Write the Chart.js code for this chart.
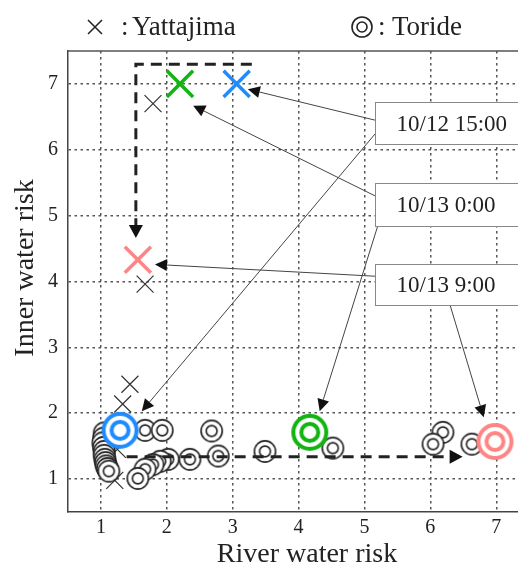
<!DOCTYPE html>
<html>
<head>
<meta charset="utf-8">
<script src="https://cdn.jsdelivr.net/npm/chart.js@4"></script>
<style>
  html, body { margin: 0; padding: 0; background: #fff; }
  canvas { display: block; }
</style>
</head>
<body>
<canvas id="riskChart" width="518" height="567"></canvas>
<script>
// tick values
const xTicks = [1, 2, 3, 4, 5, 6, 7];
const yTicks = [1, 2, 3, 4, 5, 6, 7];

// Yattajima (x marks), hourly values
const yattajimaX = [1.21, 1.25, 1.33, 1.44, 1.67, 1.79];
const yattajimaY = [0.98, 1.45, 2.14, 2.44, 3.96, 6.70];

// Toride (double circles), hourly values - drawn in this order
const torideX = [1.05, 1.04, 1.03, 1.04, 1.05, 1.05, 1.06, 1.07, 1.08, 1.10, 1.12,
                 1.67, 1.93, 2.68, 6.19, 6.63, 6.04, 4.52, 3.49, 2.78, 2.35, 2.02, 1.90, 1.79, 1.67, 1.56];
const torideY = [1.70, 1.62, 1.55, 1.48, 1.42, 1.36, 1.30, 1.25, 1.20, 1.16, 1.12,
                 1.74, 1.74, 1.73, 1.71, 1.53, 1.53, 1.47, 1.42, 1.35, 1.30, 1.30, 1.27, 1.22, 1.15, 1.01];

// highlighted times
const times = ['10/12 15:00', '10/13 0:00', '10/13 9:00'];
const timeColors = ['#1e8cff', '#12b412', '#ff8585'];
const yattajimaAtX = [3.06, 2.20, 1.56];
const yattajimaAtY = [7.00, 7.00, 4.33];
const torideAtX = [1.29, 4.17, 6.98];
const torideAtY = [1.74, 1.71, 1.57];

// annotation layout (data coordinates)
const boxLeft = 5.16;
const boxTops = [6.73, 5.50, 4.26];
const boxBottoms = [6.09, 4.84, 3.64];
const pointers = [
  { from: [5.16, 6.45], to: [3.23, 6.92] },
  { from: [5.16, 6.24], to: [1.62, 2.03] },
  { from: [5.16, 5.30], to: [2.40, 6.67] },
  { from: [5.20, 4.84], to: [4.32, 2.03] },
  { from: [5.16, 4.08], to: [1.82, 4.26] },
  { from: [6.30, 3.64], to: [6.81, 1.94] }
];
const flowPaths = [
  [[3.29, 7.30], [1.53, 7.30], [1.53, 4.66]],
  [[1.39, 1.34], [6.49, 1.34]]
];

const serif = '"Liberation Serif", "Times New Roman", Times, serif';

function toPoints(xs, ys) {
  return xs.map((x, i) => ({ x: x, y: ys[i] }));
}

// double circle marker as a small canvas
function ringStyle(outerR, innerR, lineWidth, color) {
  const size = Math.ceil(2 * outerR + lineWidth + 2);
  const c = document.createElement('canvas');
  c.width = size;
  c.height = size;
  const g = c.getContext('2d');
  const m = size / 2;
  g.fillStyle = '#fff';
  g.beginPath(); g.arc(m, m, outerR, 0, Math.PI * 2); g.fill();
  g.strokeStyle = color;
  g.lineWidth = lineWidth;
  g.beginPath(); g.arc(m, m, outerR, 0, Math.PI * 2); g.stroke();
  g.beginPath(); g.arc(m, m, innerR, 0, Math.PI * 2); g.stroke();
  return c;
}

function arrowHead(ctx, x1, y1, x2, y2, len, halfW) {
  const a = Math.atan2(y2 - y1, x2 - x1);
  const bx = x2 - len * Math.cos(a), by = y2 - len * Math.sin(a);
  ctx.beginPath();
  ctx.moveTo(x2, y2);
  ctx.lineTo(bx + halfW * Math.sin(a), by - halfW * Math.cos(a));
  ctx.lineTo(bx - halfW * Math.sin(a), by + halfW * Math.cos(a));
  ctx.closePath();
  ctx.fill();
}

const smallRing = ringStyle(10.6, 5.4, 1.6, '#222');
const bigRings = timeColors.map(c => ringStyle(16.5, 8.5, 4, c));

// dashed flow arrows, drawn right after the small circles
const flowPlugin = {
  id: 'flow',
  afterDatasetDraw(chart, args) {
    if (args.index !== 2) return;
    const ctx = chart.ctx, xs = chart.scales.x, ys = chart.scales.y;
    ctx.save();
    ctx.strokeStyle = '#222';
    ctx.fillStyle = '#111';
    ctx.lineWidth = 3;
    flowPaths.forEach(path => {
      const pts = path.map(p => [xs.getPixelForValue(p[0]), ys.getPixelForValue(p[1])]);
      const n = pts.length;
      const [px, py] = pts[n - 2], [tx, ty] = pts[n - 1];
      const d = Math.hypot(tx - px, ty - py), len = 13;
      ctx.setLineDash([11, 7]);
      ctx.beginPath();
      ctx.moveTo(pts[0][0], pts[0][1]);
      for (let i = 1; i < n - 1; i++) ctx.lineTo(pts[i][0], pts[i][1]);
      ctx.lineTo(tx - (tx - px) / d * len, ty - (ty - py) / d * len);
      ctx.stroke();
      ctx.setLineDash([]);
      arrowHead(ctx, px, py, tx, ty, len, 7);
    });
    ctx.restore();
  }
};

// frame, labels boxes, pointers, legend and axis titles
const decorPlugin = {
  id: 'decor',
  afterDraw(chart) {
    const ctx = chart.ctx, xs = chart.scales.x, ys = chart.scales.y, area = chart.chartArea;
    ctx.save();
    // top frame line
    ctx.strokeStyle = '#555';
    ctx.lineWidth = 1.5;
    ctx.beginPath();
    ctx.moveTo(area.left, area.top);
    ctx.lineTo(area.right, area.top);
    ctx.stroke();

    // pointers
    pointers.forEach(p => {
      const x1 = xs.getPixelForValue(p.from[0]), y1 = ys.getPixelForValue(p.from[1]);
      const x2 = xs.getPixelForValue(p.to[0]), y2 = ys.getPixelForValue(p.to[1]);
      const d = Math.hypot(x2 - x1, y2 - y1), len = 12;
      ctx.strokeStyle = '#444';
      ctx.lineWidth = 1;
      ctx.beginPath();
      ctx.moveTo(x1, y1);
      ctx.lineTo(x2 - (x2 - x1) / d * len, y2 - (y2 - y1) / d * len);
      ctx.stroke();
      ctx.fillStyle = '#111';
      arrowHead(ctx, x1, y1, x2, y2, len, 6);
    });

    // time boxes
    times.forEach((t, i) => {
      const left = Math.round(xs.getPixelForValue(boxLeft)) + 0.5;
      const top = Math.round(ys.getPixelForValue(boxTops[i])) + 0.5;
      const bottom = Math.round(ys.getPixelForValue(boxBottoms[i])) + 0.5;
      const right = chart.width + 10;
      ctx.fillStyle = '#fff';
      ctx.fillRect(left, top, right - left, bottom - top);
      ctx.strokeStyle = '#888';
      ctx.lineWidth = 1;
      ctx.strokeRect(left, top, right - left, bottom - top);
      ctx.fillStyle = '#222';
      ctx.font = '23px ' + serif;
      ctx.textAlign = 'left';
      ctx.textBaseline = 'middle';
      ctx.fillText(t, left + 21, (top + bottom) / 2 + 1);
    });

    // legend
    ctx.strokeStyle = '#222';
    ctx.lineWidth = 1.5;
    ctx.beginPath();
    ctx.moveTo(88, 20); ctx.lineTo(102, 34);
    ctx.moveTo(88, 34); ctx.lineTo(102, 20);
    ctx.stroke();
    ctx.lineWidth = 1.6;
    ctx.beginPath(); ctx.arc(362, 27, 10, 0, Math.PI * 2); ctx.stroke();
    ctx.beginPath(); ctx.arc(362, 27, 5, 0, Math.PI * 2); ctx.stroke();
    ctx.fillStyle = '#222';
    ctx.font = '27px ' + serif;
    ctx.textAlign = 'left';
    ctx.textBaseline = 'alphabetic';
    ctx.fillText(':', 121, 35);
    ctx.fillText('Yattajima', 132, 35);
    ctx.fillText(':', 378, 35);
    ctx.fillText('Toride', 392, 35);

    // axis titles
    ctx.font = '28px ' + serif;
    ctx.textAlign = 'center';
    ctx.fillText('River water risk', 307, 562);
    ctx.translate(33, 268);
    ctx.rotate(-Math.PI / 2);
    ctx.fillText('Inner water risk', 0, 0);
    ctx.restore();
  }
};

const ctx = document.getElementById('riskChart').getContext('2d');
new Chart(ctx, {
  type: 'scatter',
  data: {
    datasets: [
      {
        label: 'Yattajima (times)',
        data: toPoints(yattajimaAtX, yattajimaAtY),
        pointStyle: 'crossRot',
        pointRadius: 18.5,
        pointBorderWidth: 3.5,
        pointBorderColor: timeColors,
        pointBackgroundColor: timeColors
      },
      {
        label: 'Toride (times)',
        data: toPoints(torideAtX, torideAtY),
        pointStyle: bigRings,
        pointRadius: 18
      },
      {
        label: 'Toride',
        data: toPoints(torideX, torideY),
        pointStyle: smallRing,
        pointRadius: 11
      },
      {
        label: 'Yattajima',
        data: toPoints(yattajimaX, yattajimaY),
        pointStyle: 'crossRot',
        pointRadius: 12,
        pointBorderWidth: 1.2,
        pointBorderColor: '#333',
        pointBackgroundColor: '#333'
      }
    ]
  },
  options: {
    responsive: false,
    animation: false,
    events: [],
    layout: { autoPadding: false, padding: { top: 51, left: 0, right: 0, bottom: 0 } },
    plugins: {
      legend: { display: false },
      tooltip: { enabled: false }
    },
    scales: {
      x: {
        type: 'linear',
        min: 0.5,
        max: 7.33,
        afterBuildTicks: scale => { scale.ticks = xTicks.map(v => ({ value: v })); },
        afterFit: scale => { scale.height = 55; },
        ticks: {
          font: { family: serif, size: 20 },
          color: '#222',
          padding: 4,
          maxRotation: 0,
          autoSkip: false
        },
        grid: { color: '#555', lineWidth: 1.5, drawTicks: false },
        border: { display: true, color: '#444', width: 1.5, dash: [2.5, 3.5] }
      },
      y: {
        type: 'linear',
        min: 0.5,
        max: 7.5,
        afterBuildTicks: scale => { scale.ticks = yTicks.map(v => ({ value: v })); },
        afterFit: scale => { scale.width = 68; },
        ticks: {
          font: { family: serif, size: 20 },
          color: '#222',
          padding: 10,
          autoSkip: false
        },
        grid: { color: '#555', lineWidth: 1.5, drawTicks: false },
        border: { display: true, color: '#444', width: 1.5, dash: [2.5, 3.5] }
      }
    }
  },
  plugins: [flowPlugin, decorPlugin]
});
</script>
</body>
</html>
